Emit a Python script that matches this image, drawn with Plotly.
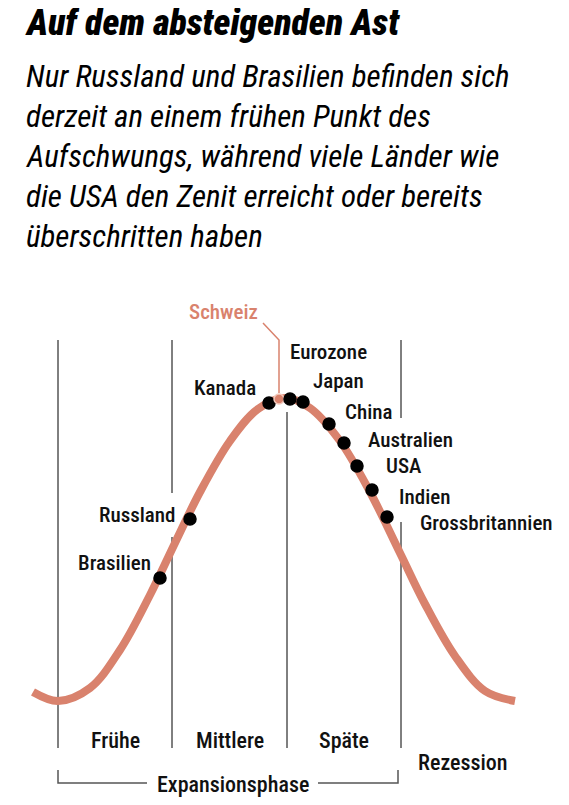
import plotly.graph_objects as go

# Konjunkturkurve
curve_x = [33, 58, 90, 120, 150, 175, 200, 230, 258, 285, 310, 340, 370, 400, 425, 455, 485, 515]
curve_y = [692, 701, 688, 650, 595, 543, 492, 441, 409, 398, 408, 441, 492, 553, 604, 656, 691, 701]

# Länder auf der Kurve
countries = ["Brasilien", "Russland", "Kanada", "Schweiz", "Eurozone", "Japan",
             "China", "Australien", "USA", "Indien", "Grossbritannien"]
country_x = [160, 190, 269, 279, 290, 303, 329, 344, 357, 372, 387]
country_y = [578, 519, 403, 399, 399, 402, 424, 443, 466, 490, 517]
highlight = "Schweiz"

# Phasen
phase_bounds = [58, 172, 287, 401]
phases = ["Frühe", "Mittlere", "Späte"]

title = "Auf dem absteigenden Ast"
subtitle_lines = ["Nur Russland und Brasilien befinden sich",
                  "derzeit an einem frühen Punkt des",
                  "Aufschwungs, während viele Länder wie",
                  "die USA den Zenit erreicht oder bereits",
                  "überschritten haben"]

SALMON = "#d9826d"
FONT = "Roboto Condensed, Roboto, sans-serif"
LBL = 21


def label_font(color="#111", size=LBL):
    return dict(family=FONT, size=size, color=color, weight=500)


fig = go.Figure()

fig.add_trace(go.Scatter(x=curve_x, y=curve_y, mode="lines", line_shape="spline",
                         line=dict(color=SALMON, width=8), hoverinfo="skip"))

dot_colors = [SALMON if c == highlight else "black" for c in countries]
dot_line = ["#f3c9bb" if c == highlight else "black" for c in countries]
dot_size = [10 if c == highlight else 12 for c in countries]
fig.add_trace(go.Scatter(x=country_x, y=country_y, mode="markers", text=countries,
                         marker=dict(color=dot_colors, size=dot_size, opacity=1,
                                     line=dict(color=dot_line, width=1.5))))

# Label-Positionen (Layout)
label_pos = {
    "Brasilien": (153, 563, "right"),
    "Russland": (177, 515, "right"),
    "Kanada": (258, 388, "right"),
    "Eurozone": (288, 352, "left"),
    "Japan": (311, 381, "left"),
    "China": (343, 412, "left"),
    "Australien": (366, 440, "left"),
    "USA": (384, 466, "left"),
    "Indien": (397, 497, "left"),
    "Grossbritannien": (418, 523, "left"),
}
annotations = []
for name, (lx, ly, anc) in label_pos.items():
    annotations.append(dict(x=lx, y=ly, xref="x", yref="y", text=name, showarrow=False,
                            xanchor=anc, yanchor="middle", font=label_font()))

annotations.append(dict(x=223, y=312, xref="x", yref="y", text=highlight, showarrow=False,
                        xanchor="center", yanchor="middle", font=label_font(SALMON)))

# Phasenbeschriftungen
for i, p in enumerate(phases):
    annotations.append(dict(x=(phase_bounds[i] + phase_bounds[i + 1]) / 2, y=740,
                            xref="x", yref="y", text=p, showarrow=False,
                            xanchor="center", yanchor="middle", font=label_font(size=22)))
annotations.append(dict(x=463, y=762, xref="x", yref="y", text="Rezession", showarrow=False,
                        xanchor="center", yanchor="middle", font=label_font(size=22)))
annotations.append(dict(x=233, y=784, xref="x", yref="y", text="Expansionsphase",
                        showarrow=False, xanchor="center", yanchor="middle",
                        font=label_font(size=22)))

# Titel
annotations.append(dict(x=24, y=23, xref="x", yref="y", text="<i>" + title + "</i>",
                        showarrow=False, xanchor="left", yanchor="middle", borderpad=0,
                        font=dict(family=FONT, size=36, color="black", weight=900)))
for i, line in enumerate(subtitle_lines):
    annotations.append(dict(x=24, y=76 + 40 * i, xref="x", yref="y",
                            text="<i>" + line + "</i>", showarrow=False,
                            xanchor="left", yanchor="middle",
                            font=dict(family=FONT, size=31, color="black")))

# Trennlinien
line_style = dict(color="black", width=1)
segments = [
    (phase_bounds[0], 340, 748),
    (phase_bounds[1], 340, 493), (phase_bounds[1], 537, 748),
    (phase_bounds[2], 412, 748),
    (phase_bounds[3], 340, 418), (phase_bounds[3], 522, 748),
]
shapes = []
for sx, y0, y1 in segments:
    shapes.append(dict(type="line", x0=sx, x1=sx, y0=y0, y1=y1, xref="x", yref="y",
                       line=line_style, layer="below"))

# Klammer Expansionsphase
br = dict(color="#555", width=1.5)
shapes += [
    dict(type="path", path="M 58 770 L 58 783 L 147 783", xref="x", yref="y", line=br),
    dict(type="path", path="M 318 783 L 398 783 L 398 770", xref="x", yref="y", line=br),
    dict(type="path", path="M 263 323 L 279 340 L 279 393", xref="x", yref="y",
         line=dict(color=SALMON, width=1.5), layer="below"),
]

# Seite hat 8px Rand -> Achsen so legen, dass Daten = Seitenpixel
fig.update_layout(
    width=561, height=797,
    margin=dict(l=0, r=0, t=0, b=0),
    paper_bgcolor="white", plot_bgcolor="white",
    showlegend=False,
    xaxis=dict(range=[8, 569], visible=False, fixedrange=True),
    yaxis=dict(range=[805, 8], visible=False, fixedrange=True),
    annotations=annotations,
    shapes=shapes,
)

fig.write_html("out.html")
